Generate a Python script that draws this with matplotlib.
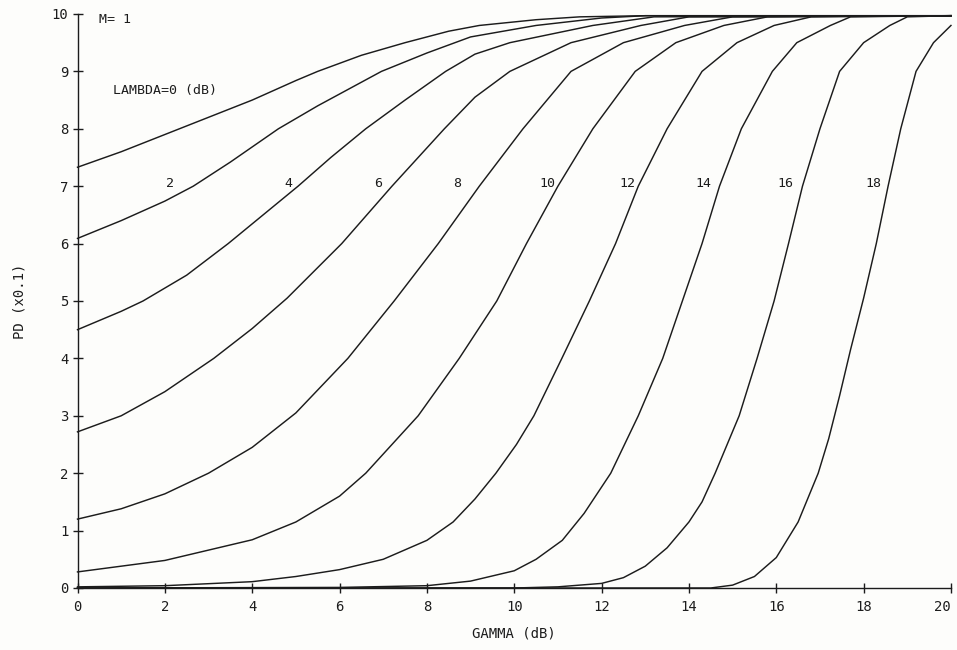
import matplotlib
matplotlib.use("Agg")
import matplotlib.pyplot as plt

# ---- data (GAMMA in dB, PD in units of 0.1) ----
lambdas = [0, 2, 4, 6, 8, 10, 12, 14, 16, 18]

gamma_l0 = [0, 1, 2, 3, 4, 5, 5.5, 6.5, 7.5, 8.5, 9.2, 10.5, 11.5, 13, 20]
pd_l0 = [7.33, 7.6, 7.9, 8.2, 8.5, 8.84, 9.0, 9.28, 9.5, 9.7, 9.8, 9.9, 9.95, 9.97, 9.97]

gamma_l2 = [0, 1, 2, 2.65, 3.5, 4.6, 5.5, 6.96, 8.0, 9.0, 10.5, 12, 13, 20]
pd_l2 = [6.09, 6.4, 6.74, 7.0, 7.42, 8.0, 8.4, 9.0, 9.32, 9.6, 9.8, 9.93, 9.97, 9.97]

gamma_l4 = [0, 1, 1.5, 2.5, 3.45, 4.25, 5.05, 5.8, 6.6, 7.5, 8.43, 9.1, 9.9, 11.8, 13.2, 20]
pd_l4 = [4.5, 4.82, 5.0, 5.45, 6.0, 6.5, 7.0, 7.5, 8.0, 8.5, 9.0, 9.3, 9.5, 9.8, 9.95, 9.97]

gamma_l6 = [0, 1, 2, 3.12, 4, 4.8, 6.05, 7.2, 8.4, 9.1, 9.9, 11.3, 12.9, 14, 20]
pd_l6 = [2.72, 3.0, 3.42, 4.0, 4.52, 5.05, 6.0, 7.0, 8.0, 8.55, 9.0, 9.5, 9.8, 9.95, 9.97]

gamma_l8 = [0, 1, 2, 3, 4, 5, 6.19, 7.25, 8.26, 9.2, 10.2, 11.3, 12.5, 13.9, 15, 20]
pd_l8 = [1.2, 1.38, 1.64, 2.0, 2.45, 3.05, 4.0, 5.0, 6.0, 7.0, 8.0, 9.0, 9.5, 9.8, 9.95, 9.97]

gamma_l10 = [0, 2, 4, 5, 6, 6.6, 7.2, 7.8, 8.74, 9.6, 10.28, 11.0, 11.8, 12.77, 13.7, 14.8, 15.8, 20]
pd_l10 = [0.28, 0.48, 0.84, 1.15, 1.6, 2.0, 2.5, 3.0, 4.0, 5.0, 6.0, 7.0, 8.0, 9.0, 9.5, 9.8, 9.95, 9.97]

gamma_l12 = [0, 2, 4, 5, 6, 7, 8, 8.6, 9.1, 9.58, 10.05, 10.45, 11.09, 11.72, 12.32, 12.84, 13.5, 14.3, 15.1, 15.95, 16.8, 20]
pd_l12 = [0.02, 0.04, 0.11, 0.2, 0.32, 0.5, 0.83, 1.15, 1.55, 2.0, 2.5, 3.0, 4.0, 5.0, 6.0, 7.0, 8.0, 9.0, 9.5, 9.8, 9.95, 9.97]

gamma_l14 = [0, 6, 8, 9, 10, 10.5, 11.1, 11.6, 12.21, 12.84, 13.4, 13.85, 14.3, 14.7, 15.2, 15.91, 16.47, 17.24, 17.7, 20]
pd_l14 = [0.0, 0.01, 0.04, 0.12, 0.3, 0.5, 0.83, 1.3, 2.0, 3.0, 4.0, 5.0, 6.0, 7.0, 8.0, 9.0, 9.5, 9.8, 9.95, 9.97]

gamma_l16 = [0, 10, 11, 12, 12.5, 13, 13.5, 14, 14.3, 14.6, 15.15, 15.56, 15.95, 16.28, 16.6, 17.0, 17.45, 18.0, 18.6, 19.0, 20]
pd_l16 = [0.0, 0.0, 0.02, 0.08, 0.18, 0.38, 0.7, 1.15, 1.5, 2.0, 3.0, 4.0, 5.0, 6.0, 7.0, 8.0, 9.0, 9.5, 9.8, 9.95, 9.97]

gamma_l18 = [0, 14.5, 15, 15.5, 16, 16.5, 16.96, 17.2, 17.45, 17.7, 18.0, 18.29, 18.56, 18.85, 19.2, 19.6, 20]
pd_l18 = [0.0, 0.0, 0.05, 0.2, 0.53, 1.15, 2.0, 2.6, 3.35, 4.15, 5.05, 6.0, 7.0, 8.0, 9.0, 9.5, 9.8]

curve_label_x = [None, 2.12, 4.83, 6.89, 8.69, 10.75, 12.59, 14.33, 16.2, 18.22]
curve_label_text = ["", "2", "4", "6", "8", "10", "12", "14", "16", "18"]

x_ticks = [0, 2, 4, 6, 8, 10, 12, 14, 16, 18, 20]
y_ticks = [0, 1, 2, 3, 4, 5, 6, 7, 8, 9, 10]

curves = [
    (gamma_l0, pd_l0), (gamma_l2, pd_l2), (gamma_l4, pd_l4), (gamma_l6, pd_l6),
    (gamma_l8, pd_l8), (gamma_l10, pd_l10), (gamma_l12, pd_l12), (gamma_l14, pd_l14),
    (gamma_l16, pd_l16), (gamma_l18, pd_l18),
]

# ---- figure ----
plt.rcParams['font.family'] = ['DejaVu Sans Mono', 'DejaVu Sans']
ink = '#1c1c1c'

fig = plt.figure(figsize=(9.57, 6.5), dpi=100)
fig.patch.set_facecolor('#fdfdfb')
ax = fig.add_axes([0.081, 0.0954, 0.9127, 0.8831])
ax.set_facecolor('#fdfdfb')

for g, p in curves:
    ax.plot(g, p, color=ink, lw=1.05, solid_joinstyle='round', clip_on=False)

ax.set_xlim(0, 20)
ax.set_ylim(0, 10)
ax.set_xticks(x_ticks)
ax.set_yticks(y_ticks)
ax.set_xticklabels([str(v) for v in x_ticks])
ax.set_yticklabels([str(v) for v in y_ticks])

for s in ['top', 'right']:
    ax.spines[s].set_visible(False)
for s in ['left', 'bottom']:
    ax.spines[s].set_color(ink)
    ax.spines[s].set_linewidth(1.0)

ax.tick_params(axis='both', direction='inout', length=7, width=1.0,
               color=ink, labelcolor=ink, labelsize=10, pad=3)
ax.tick_params(axis='x', pad=5)
# the last x label sits just left of its tick so it stays inside the figure
ax.get_xticklabels()[-1].set_horizontalalignment('right')

ax.set_xlabel('GAMMA (dB)', fontsize=10, color=ink, labelpad=9)
ax.set_ylabel('PD (x0.1)', fontsize=10, color=ink, labelpad=18)

ax.text(0.5, 9.9, 'M= 1', fontsize=9.5, color=ink, ha='left', va='center')
ax.text(0.81, 8.66, 'LAMBDA=0 (dB)', fontsize=9.5, color=ink, ha='left', va='center')
for lx, lt in zip(curve_label_x, curve_label_text):
    if lx is None:
        continue
    ax.text(lx, 7.05, lt, fontsize=9.5, color=ink, ha='center', va='center')

fig.savefig('out.png', dpi=100, facecolor=fig.get_facecolor())
